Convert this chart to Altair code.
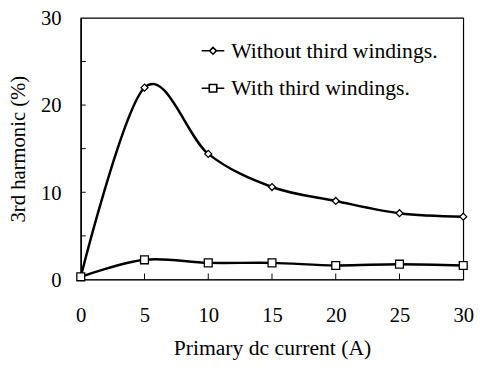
import altair as alt
import pandas as pd

current = [0, 5, 10, 15, 20, 25, 30]
without_third = [0.3, 22.0, 14.4, 10.6, 9.0, 7.6, 7.2]
with_third = [0.3, 2.25, 1.9, 1.9, 1.6, 1.75, 1.6]
series_names = ["Without third windings.", "With third windings."]
x_ticks = [5, 10, 15, 20, 25]
y_ticks = [5, 10, 15, 20, 25]

rows = []
for xv, a, b in zip(current, without_third, with_third):
    rows.append({"x": xv, "y": a, "s": series_names[0]})
    rows.append({"x": xv, "y": b, "s": series_names[1]})
df = pd.DataFrame(rows)

FONT = "Liberation Serif"
W, H = 389, 266

xs = alt.Scale(domain=[0, 30], nice=False, zero=False)
ys = alt.Scale(domain=[0, 30], nice=False)

base = alt.Chart(df)

line = base.mark_line(interpolate="cardinal", tension=0, color="black", strokeWidth=2.5).encode(
    x=alt.X("x:Q", scale=xs, title="Primary dc current (A)",
            axis=alt.Axis(values=current, tickSize=0, labelPadding=26, titlePadding=12,
                          labelFontSize=21, titleFontSize=22, grid=False, domainColor="black",
                          labelFlush=False, labelFont=FONT, titleFont=FONT,
                          titleFontWeight="normal", labelColor="black", titleColor="black")),
    y=alt.Y("y:Q", scale=ys, title="3rd harmonic (%)",
            axis=alt.Axis(values=[0, 10, 20, 30], tickSize=0, labelPadding=20, titlePadding=12,
                          labelFontSize=21, titleFontSize=21, grid=False, domainColor="black",
                          domainWidth=1.5, labelFont=FONT, titleFont=FONT, labelOffset=1,
                          titleFontWeight="normal", labelColor="black", titleColor="black")),
    detail="s:N",
)

points = base.mark_point(filled=True, fill="white", stroke="black", strokeWidth=1.3, opacity=1).encode(
    x=alt.X("x:Q", scale=xs),
    y=alt.Y("y:Q", scale=ys),
    shape=alt.Shape("s:N", scale=alt.Scale(domain=series_names, range=["diamond", "square"]), legend=None),
    size=alt.Size("s:N", scale=alt.Scale(domain=series_names, range=[50, 64]), legend=None),
)

diamond_stub = "M-1,0L-0.3,0M0.3,0L1,0M-0.3,0L0,-0.3L0.3,0L0,0.3Z"
square_stub = "M-1,0L-0.33,0M0.33,0L1,0M-0.33,-0.33L0.33,-0.33L0.33,0.33L-0.33,0.33Z"

legend_layer = base.transform_filter("datum.x < 0").mark_point(
    filled=False, color="black", strokeWidth=1.6, opacity=1
).encode(
    x=alt.X("x:Q", scale=xs),
    y=alt.Y("y:Q", scale=ys),
    shape=alt.Shape("s:N", scale=alt.Scale(domain=series_names, range=[diamond_stub, square_stub]),
                    legend=alt.Legend(title=None, orient="none", legendX=122, legendY=21,
                                      symbolSize=529, symbolStrokeColor="black",
                                      symbolStrokeWidth=1.6, labelFont=FONT,
                                      labelFontSize=22, labelColor="black", rowPadding=14,
                                      labelOffset=6, labelLimit=400)),
)

xt = alt.Chart(pd.DataFrame({"t": x_ticks})).mark_rule(color="black", strokeWidth=1).encode(
    x=alt.X("t:Q", scale=xs), y=alt.value(H), y2=alt.value(H - 6))
yt = alt.Chart(pd.DataFrame({"t": y_ticks})).mark_rule(color="black", strokeWidth=1).encode(
    y=alt.Y("t:Q", scale=ys), x=alt.value(0), x2=alt.value(5))

chart = alt.layer(line, xt, yt, points, legend_layer).resolve_scale(
    shape="independent", size="independent"
).properties(
    width=W, height=H,
    background="white",
    autosize=alt.AutoSizeParams(type="none"),
    padding={"left": 74, "top": 7, "right": 14, "bottom": 86},
).configure_view(stroke="black", strokeWidth=1.2)

chart.save("out.html", embed_options={"renderer": "svg", "actions": False})
